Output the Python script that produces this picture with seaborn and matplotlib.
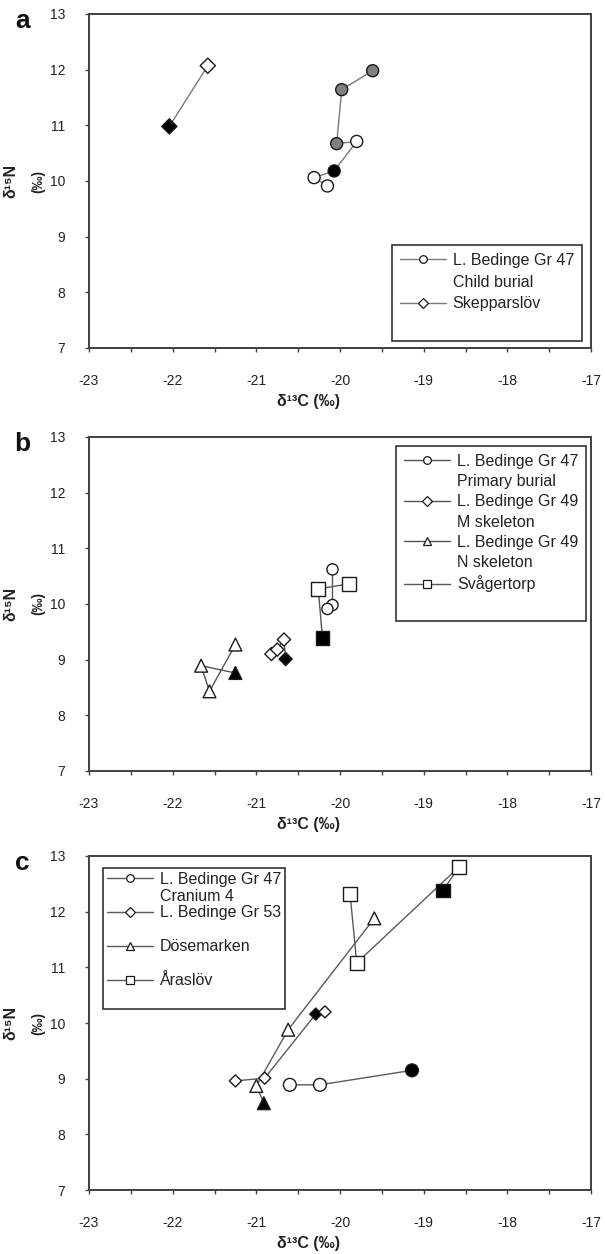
import numpy as np
import pandas as pd
import matplotlib
matplotlib.use("Agg")
import matplotlib.pyplot as plt
from matplotlib.lines import Line2D
from matplotlib.ticker import MultipleLocator
import seaborn as sns

## values (d13C, d15N, marker fill)
# panel a
a_gr47_x = [-19.61, -19.98, -20.04, -19.80, -20.07, -20.31, -20.15]
a_gr47_y = [11.98, 11.64, 10.67, 10.71, 10.18, 10.06, 9.91]
a_gr47_fill = ["gray", "gray", "gray", "white", "black", "white", "white"]
a_skep_x = [-22.04, -21.58]
a_skep_y = [10.98, 12.07]
a_skep_fill = ["black", "white"]

# panel b
b_gr47_x = [-20.09, -20.09, -20.15]
b_gr47_y = [10.62, 9.98, 9.91]
b_gr47_fill = ["white", "white", "white"]
b_gr49m_x = [-20.82, -20.75, -20.67, -20.65]
b_gr49m_y = [9.10, 9.18, 9.36, 9.01]
b_gr49m_fill = ["white", "white", "white", "black"]
b_gr49n_x = [-21.25, -21.56, -21.66, -21.25]
b_gr49n_y = [9.27, 8.43, 8.89, 8.76]
b_gr49n_fill = ["white", "white", "white", "black"]
b_svag_x = [-19.89, -20.26, -20.21]
b_svag_y = [10.36, 10.27, 9.39]
b_svag_fill = ["white", "white", "black"]

# panel c
c_gr47_x = [-20.60, -20.24, -19.14]
c_gr47_y = [8.89, 8.89, 9.15]
c_gr47_fill = ["white", "white", "black"]
c_gr53_x = [-21.25, -20.90, -20.29, -20.18]
c_gr53_y = [8.96, 9.01, 10.16, 10.20]
c_gr53_fill = ["white", "white", "black", "white"]
c_dose_x = [-20.91, -21.00, -20.62, -19.59]
c_dose_y = [8.56, 8.87, 9.88, 11.88]
c_dose_fill = ["black", "white", "white", "white"]
c_aras_x = [-19.88, -19.80, -18.58, -18.77]
c_aras_y = [12.32, 11.08, 12.80, 12.38]
c_aras_fill = ["white", "white", "white", "black"]

# legend rows (second line of a label is its own row)
a_labels = ["L. Bedinge Gr 47", "Child burial", "Skepparslöv", " "]
a_markers = ["o", None, "D", None]
b_labels = ["L. Bedinge Gr 47", "Primary burial", "L. Bedinge Gr 49", "M skeleton",
            "L. Bedinge Gr 49", "N skeleton", "Svågertorp", " "]
b_markers = ["o", None, "D", None, "^", None, "s", None]
c_labels = ["L. Bedinge Gr 47", "Cranium 4", "L. Bedinge Gr 53", " ",
            "Dösemarken", " ", "Åraslöv", " "]
c_markers = ["o", None, "D", None, "^", None, "s", None]

FILLS = {"white": "white", "black": "black", "gray": "#808080"}
EDGE = "#1a1a1a"
SPINE = "#404040"


def make_df(xs, ys, fills):
    return pd.DataFrame({"x": xs, "y": ys, "fill": fills})


def draw_series(ax, df, marker, size, line_color):
    sns.lineplot(data=df, x="x", y="y", sort=False, estimator=None,
                 color=line_color, lw=1.0, ax=ax, legend=False, zorder=2)
    sns.scatterplot(data=df, x="x", y="y", hue="fill", palette=FILLS,
                    marker=marker, s=size, edgecolor=EDGE, linewidth=1.0,
                    ax=ax, legend=False, zorder=3)


def add_legend(ax, labels, markers, line_color, spacing, anchor, loc, pad=0.5):
    handles = []
    for m in markers:
        if m is None:
            handles.append(Line2D([], [], linestyle="none"))
        else:
            handles.append(Line2D([0], [0], color=line_color, lw=1.0, marker=m,
                                  markersize=5.5, markerfacecolor="white",
                                  markeredgecolor=EDGE, markeredgewidth=0.9))
    leg = ax.legend(handles, labels, loc=loc, bbox_to_anchor=anchor,
                    borderaxespad=0, fontsize=11.5, handlelength=2.9,
                    handletextpad=0.4, labelspacing=spacing, borderpad=pad,
                    fancybox=False, framealpha=1, edgecolor="#333333")
    leg.get_frame().set_linewidth(1.2)
    for t in leg.get_texts():
        t.set_color("#222222")


def style_axes(ax, letter):
    ax.set_xlim(-23, -17)
    ax.set_ylim(7, 13)
    ax.xaxis.set_major_locator(MultipleLocator(1))
    ax.xaxis.set_minor_locator(MultipleLocator(0.5))
    ax.yaxis.set_major_locator(MultipleLocator(1))
    ax.tick_params(which="both", direction="out", length=3, width=1, color=SPINE)
    ax.tick_params(axis="x", labelsize=10, pad=16, labelcolor="#222222")
    ax.tick_params(axis="y", labelsize=10, pad=14, labelcolor="#222222")
    ax.xaxis.set_major_formatter(matplotlib.ticker.FuncFormatter(lambda v, p: f"{v:.0f}"))
    for s in ax.spines.values():
        s.set_visible(True)
        s.set_color(SPINE)
        s.set_linewidth(1.4)
    ax.set_xlabel("")
    ax.set_ylabel("")
    ax.text(0.438, -0.16, "δ¹³C (‰)", transform=ax.transAxes, ha="center",
            va="center", fontsize=11.5, fontweight="bold", color="#222222")
    ax.text(-0.155, 0.5, "δ¹⁵N", transform=ax.transAxes, ha="center", va="center",
            rotation=90, fontsize=11.5, fontweight="bold", color="#222222")
    ax.text(-0.102, 0.5, "(‰)", transform=ax.transAxes, ha="center", va="center",
            rotation=90, fontsize=10, fontweight="bold", color="#222222")
    ax.text(-0.132, 0.958, letter, transform=ax.transAxes, ha="center",
            va="baseline", fontsize=19, fontweight="bold", color="#111111")


sns.set_style("ticks")
plt.rcParams["font.family"] = ["Liberation Sans", "DejaVu Sans"]

fig = plt.figure(figsize=(6.05, 12.54), dpi=100)
left, width, height = 0.1471, 0.8298, 0.2664
ax_a = fig.add_axes([left, 0.7225, width, height])
ax_b = fig.add_axes([left, 0.3852, width, height])
ax_c = fig.add_axes([left, 0.0510, width, height])

# panel a
gray_a = "#7a7a7a"
draw_series(ax_a, make_df(a_skep_x, a_skep_y, a_skep_fill), "D", 60, gray_a)
draw_series(ax_a, make_df(a_gr47_x, a_gr47_y, a_gr47_fill), "o", 75, gray_a)
style_axes(ax_a, "a")
add_legend(ax_a, a_labels, a_markers, gray_a, 0.42, (0.982, 0.308), "upper right")

# panel b
gray_b = "#555555"
draw_series(ax_b, make_df(b_gr49n_x, b_gr49n_y, b_gr49n_fill), "^", 85, gray_b)
draw_series(ax_b, make_df(b_gr49m_x, b_gr49m_y, b_gr49m_fill), "D", 45, gray_b)
draw_series(ax_b, make_df(b_svag_x, b_svag_y, b_svag_fill), "s", 95, gray_b)
draw_series(ax_b, make_df(b_gr47_x, b_gr47_y, b_gr47_fill), "o", 65, gray_b)
style_axes(ax_b, "b")
add_legend(ax_b, b_labels, b_markers, gray_b, 0.33, (0.990, 0.973), "upper right")

# panel c
gray_c = "#5a5a5a"
draw_series(ax_c, make_df(c_dose_x, c_dose_y, c_dose_fill), "^", 85, gray_c)
draw_series(ax_c, make_df(c_gr53_x, c_gr53_y, c_gr53_fill), "D", 38, gray_c)
draw_series(ax_c, make_df(c_aras_x, c_aras_y, c_aras_fill), "s", 95, gray_c)
draw_series(ax_c, make_df(c_gr47_x, c_gr47_y, c_gr47_fill), "o", 85, gray_c)
style_axes(ax_c, "c")
add_legend(ax_c, c_labels, c_markers, gray_c, 0.12, (0.028, 0.965), "upper left", pad=0.25)

fig.savefig("out.png", dpi=100)
